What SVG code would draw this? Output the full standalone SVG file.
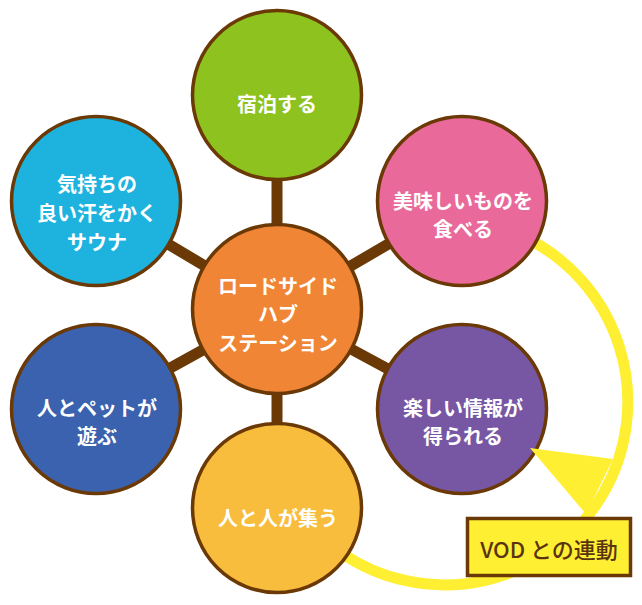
<svg xmlns="http://www.w3.org/2000/svg" width="642" height="605" viewBox="0 0 642 605">
<style>
.node circle{stroke:#6A3906;stroke-width:3.5}
.node text{fill:#FFFFFF;font-family:"Noto Sans CJK JP","Noto Sans",sans-serif;font-size:20px;font-weight:700;text-anchor:middle;dominant-baseline:central}
.bar{stroke:#6A3906;stroke-width:11;stroke-linecap:butt}
.yel{fill:#FFEF33}
</style>
<rect x="0" y="0" width="642" height="605" fill="#FFFFFF"/>
<g id="connectors">
<line class="bar" x1="277" y1="309" x2="277" y2="95"/>
<line class="bar" x1="277" y1="309" x2="96" y2="201"/>
<line class="bar" x1="277" y1="309" x2="462" y2="201"/>
<line class="bar" x1="277" y1="309" x2="96" y2="409"/>
<line class="bar" x1="277" y1="309" x2="462" y2="409"/>
<line class="bar" x1="277" y1="309" x2="277" y2="508"/>
<path id="vod-arc" d="M522.3,236.1 A183,183 0 1 1 340,551.9" fill="none" stroke="#FFEF33" stroke-width="11"/>
</g>
<g id="node-top" class="node">
<circle cx="277" cy="95" r="84.5" fill="#8DC21F"/>
<text x="277" y="103">宿泊する</text>
</g>
<g id="node-upper-left" class="node">
<circle cx="96" cy="201" r="84.5" fill="#1DB3DE"/>
<text x="97" y="183">気持ちの</text>
<text x="97" y="212">良い汗をかく</text>
<text x="97" y="241">サウナ</text>
</g>
<g id="node-upper-right" class="node">
<circle cx="462" cy="201" r="84.5" fill="#E96A9A"/>
<text x="463" y="200">美味しいものを</text>
<text x="463" y="228">食べる</text>
</g>
<g id="node-lower-left" class="node">
<circle cx="96" cy="409" r="84.5" fill="#3B62AE"/>
<text x="97" y="407">人とペットが</text>
<text x="97" y="435">遊ぶ</text>
</g>
<g id="node-lower-right" class="node">
<circle cx="462" cy="409" r="84.5" fill="#7757A4"/>
<text x="463" y="407">楽しい情報が</text>
<text x="463" y="435">得られる</text>
</g>
<g id="node-bottom" class="node">
<circle cx="277" cy="508" r="84.5" fill="#F8BD3C"/>
<text x="278" y="517">人と人が集う</text>
</g>
<g id="node-center" class="node">
<circle cx="277" cy="309" r="84.5" fill="#EF8535"/>
<text x="278" y="285">ロードサイド</text>
<text x="278" y="313">ハブ</text>
<text x="278" y="342">ステーション</text>
</g>
<g id="vod-arrowhead">
<polygon class="yel" points="530,448 613,459 586,514"/>
</g>
<g id="node-vod">
<rect x="467.5" y="518.5" width="163" height="57" fill="#FFEF33" stroke="#6A3906" stroke-width="3.5"/>
<text x="549" y="548" fill="#5A3410" font-family="'Noto Sans CJK JP','Noto Sans',sans-serif" font-size="22" font-weight="500" text-anchor="middle" dominant-baseline="central">VOD との連動</text>
</g>
</svg>
